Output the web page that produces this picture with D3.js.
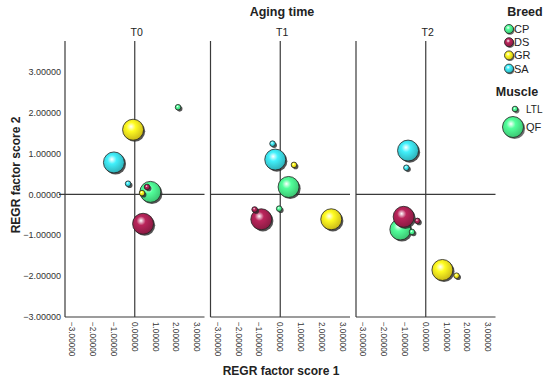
<!DOCTYPE html>
<html><head><meta charset="utf-8">
<script src="https://cdn.jsdelivr.net/npm/d3@7"></script>
<style>body{margin:0;background:#fff;}svg{display:block;font-family:Arial,"Liberation Sans",sans-serif;}</style>
</head><body><svg id="c" width="550" height="382"></svg>
<script>
const times = ["T0", "T1", "T2"];
const breeds = ["CP", "DS", "GR", "SA"];
const muscles = ["LTL", "QF"];
const xTicks = [-3, -2, -1, 0, 1, 2, 3];
const yTicks = [-3, -2, -1, 0, 1, 2, 3];
// values per time, per breed (CP, DS, GR, SA)
const qfScore1 = [[0.75, 0.40, -0.08, -1.00], [0.40, -0.91, 2.45, -0.24], [-1.22, -1.06, 0.80, -0.85]];
const qfScore2 = [[0.06, -0.72, 1.58, 0.78], [0.18, -0.61, -0.61, 0.85], [-0.86, -0.55, -1.85, 1.07]];
const ltlScore1 = [[2.08, 0.59, 0.35, -0.32], [-0.05, -1.23, 0.66, -0.37], [-0.66, -0.40, 1.48, -0.93]];
const ltlScore2 = [[2.13, 0.18, 0.03, 0.26], [-0.35, -0.37, 0.72, 1.24], [-0.92, -0.65, -1.99, 0.65]];
const breedColors = ["#45e082", "#9c1f4c", "#e6d31c", "#36c9d2"];

const svg = d3.select("#c");
const defs = svg.append("defs");
breeds.forEach((b, i) => {
  const base = d3.color(breedColors[i]);
  const g = defs.append("radialGradient").attr("id", "g" + b)
    .attr("cx", "42%").attr("cy", "38%").attr("r", "62%").attr("fx", "40%").attr("fy", "35%");
  g.append("stop").attr("offset", "0%").attr("stop-color", "#ffffff");
  g.append("stop").attr("offset", "35%").attr("stop-color", base.brighter(0.5).formatHex());
  g.append("stop").attr("offset", "100%").attr("stop-color", base.darker(0.35).formatHex());
});
const blur = defs.append("filter").attr("id", "sh").attr("x", "-50%").attr("y", "-50%").attr("width", "200%").attr("height", "200%");
blur.append("feGaussianBlur").attr("stdDeviation", 0.7);

const rScale = d3.scaleOrdinal().domain(muscles).range([2.8, 10.5]);

const plotTop = 41, plotBottom = 317, panelW = 139.5, step = 145.5, left0 = 65;
const y = d3.scaleLinear().domain([-3, 3.75]).range([plotBottom, plotTop]);
const fmt = d3.format(".5f");
const axisColor = "#3a3a3a";

const pts = [];
times.forEach((t, ti) => {
  breeds.forEach((b, bi) => {
    pts.push({t: ti, breed: b, muscle: "QF", s1: qfScore1[ti][bi], s2: qfScore2[ti][bi]});
  });
  breeds.forEach((b, bi) => {
    pts.push({t: ti, breed: b, muscle: "LTL", s1: ltlScore1[ti][bi], s2: ltlScore2[ti][bi]});
  });
});

times.forEach((t, ti) => {
  const x0 = left0 + ti * step;
  const x = d3.scaleLinear().domain([-3.35, 3.35]).range([x0, x0 + panelW]);
  const g = svg.append("g");
  g.append("line").attr("x1", x0).attr("x2", x0).attr("y1", plotTop).attr("y2", plotBottom).attr("stroke", axisColor).attr("stroke-width", 1.2);
  g.append("line").attr("x1", x0).attr("x2", x0 + panelW).attr("y1", plotBottom).attr("y2", plotBottom).attr("stroke", axisColor).attr("stroke-width", 1.2);
  g.append("line").attr("x1", ti === 0 ? x0 - 6 : x0).attr("x2", x0 + panelW).attr("y1", y(0)).attr("y2", y(0)).attr("stroke", axisColor).attr("stroke-width", 1.2);
  g.append("line").attr("x1", x(0)).attr("x2", x(0)).attr("y1", plotTop).attr("y2", plotBottom).attr("stroke", axisColor).attr("stroke-width", 1.2);
  g.selectAll("text.xt").data(xTicks).join("text")
    .attr("transform", d => `translate(${x(d) - 3},${plotBottom + 5}) rotate(90)`)
    .attr("font-size", 8.2).attr("fill", "#333").attr("text-anchor", "start")
    .text(d => fmt(d));
  svg.append("text").attr("x", x0 + panelW / 2 + 2).attr("y", 36).attr("text-anchor", "middle")
    .attr("font-size", 10.5).attr("fill", "#222").text(t);
  const d = pts.filter(p => p.t === ti);
  const ordered = d.filter(p => p.muscle === "QF").concat(d.filter(p => p.muscle === "LTL"));
  ordered.forEach(p => {
    const cx = x(p.s1), cy = y(p.s2), r = rScale(p.muscle);
    g.append("circle").attr("cx", cx + 1.6).attr("cy", cy + 1.6).attr("r", r)
      .attr("fill", "#2a2a2a").attr("opacity", 0.8).attr("filter", "url(#sh)");
    g.append("circle").attr("cx", cx).attr("cy", cy).attr("r", r)
      .attr("fill", `url(#g${p.breed})`).attr("stroke", "#222").attr("stroke-width", 0.8);
  });
});

svg.selectAll("text.yt").data(yTicks).join("text")
  .attr("x", 61).attr("y", d => y(d) + 3.2).attr("text-anchor", "end")
  .attr("font-size", 9).attr("fill", "#333").text(d => fmt(d));

svg.append("text").attr("x", 282).attr("y", 16).attr("text-anchor", "middle")
  .attr("font-size", 12.5).attr("font-weight", "bold").attr("fill", "#222").text("Aging time");
svg.append("text").attr("x", 281).attr("y", 375).attr("text-anchor", "middle")
  .attr("font-size", 12).attr("font-weight", "bold").attr("fill", "#222").text("REGR factor score 1");
svg.append("text").attr("transform", "translate(19.5,175) rotate(-90)").attr("text-anchor", "middle")
  .attr("font-size", 12).attr("font-weight", "bold").attr("fill", "#222").text("REGR factor score 2");

const lg = svg.append("g");
lg.append("text").attr("x", 525).attr("y", 16).attr("text-anchor", "middle")
  .attr("font-size", 12.5).attr("font-weight", "bold").attr("fill", "#222").text("Breed");
breeds.forEach((b, i) => {
  const cy = 29 + i * 13.2;
  lg.append("circle").attr("cx", 510).attr("cy", cy + 1.2).attr("r", 4.5).attr("fill", "#333").attr("opacity", 0.7).attr("filter", "url(#sh)");
  lg.append("circle").attr("cx", 509).attr("cy", cy).attr("r", 4.5).attr("fill", `url(#g${b})`).attr("stroke", "#222").attr("stroke-width", 0.8);
  lg.append("text").attr("x", 514).attr("y", cy + 4).attr("font-size", 11).attr("fill", "#222").text(b);
});
lg.append("text").attr("x", 517).attr("y", 96).attr("text-anchor", "middle")
  .attr("font-size", 12.5).attr("font-weight", "bold").attr("fill", "#222").text("Muscle");
const legM = [{m: "LTL", cy: 109, tx: 526}, {m: "QF", cy: 127, tx: 526}];
legM.forEach(o => {
  const r = rScale(o.m);
  const cx = o.m === "LTL" ? 515 : 513;
  lg.append("circle").attr("cx", cx + 1.6).attr("cy", o.cy + 1.6).attr("r", r).attr("fill", "#333").attr("opacity", 0.7).attr("filter", "url(#sh)");
  lg.append("circle").attr("cx", cx).attr("cy", o.cy).attr("r", r).attr("fill", "url(#gCP)").attr("stroke", "#222").attr("stroke-width", 0.8);
  lg.append("text").attr("x", o.tx).attr("y", o.cy + 4).attr("font-size", o.m === "LTL" ? 10 : 11).attr("fill", "#222").text(o.m);
});
</script></body></html>
